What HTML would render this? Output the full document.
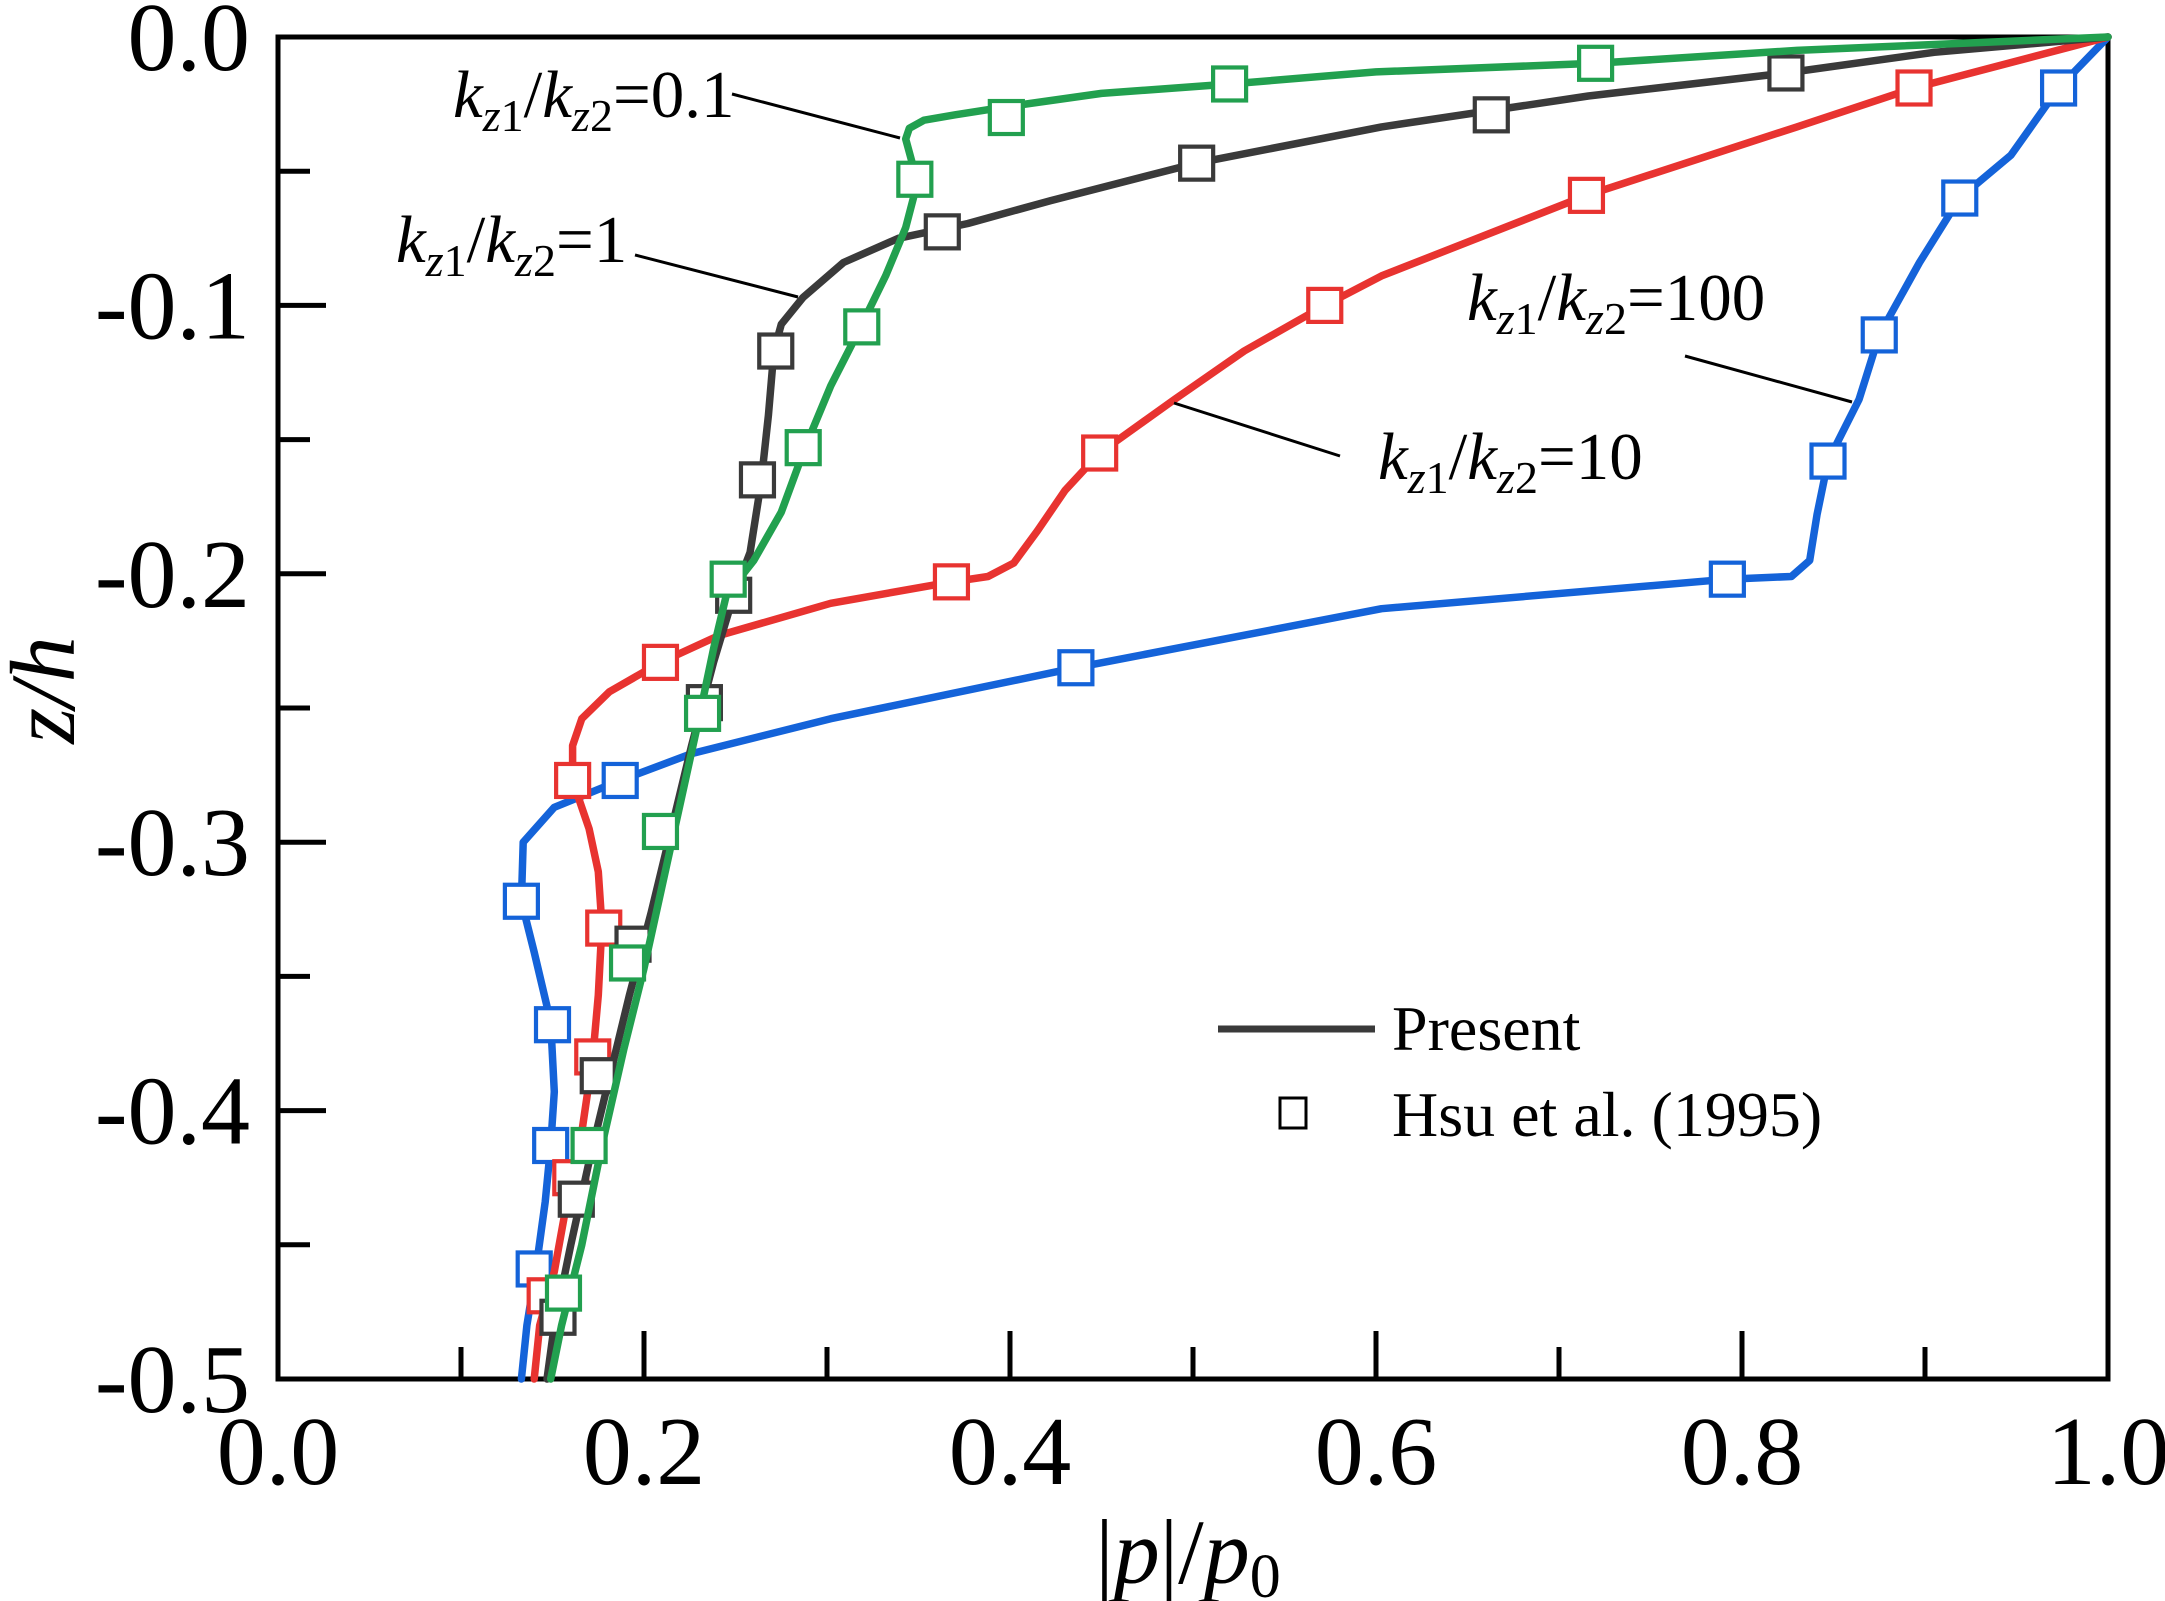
<!DOCTYPE html>
<html><head><meta charset="utf-8"><style>
html,body{margin:0;padding:0;background:#fff;}
svg{display:block;font-family:"Liberation Serif",serif;}
</style></head><body>
<svg id="chart" width="2165" height="1601" viewBox="0 0 2165 1601" xmlns="http://www.w3.org/2000/svg">
<g id="plot"></g>
</svg>
<script>
// ---- data ----
const xTicks = [0, 0.2, 0.4, 0.6, 0.8, 1.0];
const xTickLabels = ["0.0","0.2","0.4","0.6","0.8","1.0"];
const yTicks = [0, -0.1, -0.2, -0.3, -0.4, -0.5];
const yTickLabels = ["0.0","-0.1","-0.2","-0.3","-0.4","-0.5"];

const greenLineX = [1,0.83,0.72,0.6,0.52,0.45,0.398,0.37,0.353,0.345,0.343,0.347,0.348,0.343,0.332,0.317,0.302,0.288,0.275,0.26,0.245,0.238,0.23,0.22,0.21,0.2,0.189,0.177,0.166,0.155,0.149];
const greenLineY = [0,-0.005,-0.0098,-0.013,-0.0175,-0.021,-0.026,-0.029,-0.031,-0.034,-0.038,-0.048,-0.058,-0.071,-0.089,-0.11,-0.13,-0.153,-0.177,-0.195,-0.208,-0.228,-0.254,-0.285,-0.316,-0.347,-0.377,-0.413,-0.45,-0.48,-0.5];
const greenMarkX = [0.72,0.52,0.398,0.348,0.319,0.287,0.246,0.232,0.209,0.191,0.17,0.156];
const greenMarkY = [-0.0098,-0.0175,-0.03,-0.053,-0.108,-0.153,-0.202,-0.252,-0.296,-0.345,-0.413,-0.468];

const blackLineX = [1,0.905,0.824,0.716,0.603,0.502,0.422,0.377,0.339,0.309,0.287,0.275,0.271,0.268,0.264,0.258,0.249,0.238,0.226,0.215,0.204,0.192,0.181,0.17,0.16,0.151,0.147];
const blackLineY = [0,-0.0057,-0.0134,-0.022,-0.0335,-0.047,-0.061,-0.0695,-0.075,-0.084,-0.097,-0.107,-0.117,-0.141,-0.166,-0.192,-0.208,-0.233,-0.264,-0.295,-0.326,-0.357,-0.388,-0.419,-0.45,-0.48,-0.5];
const blackMarkX = [0.824,0.663,0.502,0.363,0.272,0.262,0.249,0.233,0.194,0.175,0.163,0.153];
const blackMarkY = [-0.0134,-0.029,-0.047,-0.0726,-0.117,-0.165,-0.208,-0.248,-0.338,-0.387,-0.433,-0.477];

const redLineX = [1,0.894,0.83,0.715,0.603,0.572,0.528,0.49,0.449,0.43,0.415,0.402,0.388,0.368,0.302,0.241,0.209,0.181,0.166,0.161,0.161,0.17,0.175,0.177,0.175,0.172,0.166,0.16,0.151,0.143,0.14];
const redLineY = [0,-0.019,-0.0335,-0.059,-0.089,-0.1,-0.117,-0.135,-0.155,-0.169,-0.184,-0.196,-0.201,-0.203,-0.211,-0.223,-0.233,-0.244,-0.254,-0.264,-0.277,-0.295,-0.311,-0.331,-0.357,-0.38,-0.408,-0.426,-0.46,-0.48,-0.5];
const redMarkX = [0.894,0.715,0.572,0.449,0.368,0.209,0.161,0.178,0.172,0.16,0.146];
const redMarkY = [-0.019,-0.059,-0.1,-0.155,-0.203,-0.233,-0.277,-0.332,-0.38,-0.425,-0.469];

const blueLineX = [1,0.973,0.947,0.919,0.897,0.875,0.864,0.847,0.841,0.837,0.827,0.792,0.603,0.436,0.302,0.226,0.187,0.151,0.134,0.133,0.14,0.149,0.151,0.149,0.146,0.141,0.136,0.133];
const blueLineY = [0,-0.019,-0.044,-0.06,-0.084,-0.111,-0.135,-0.158,-0.178,-0.195,-0.201,-0.202,-0.213,-0.235,-0.254,-0.267,-0.277,-0.287,-0.3,-0.322,-0.341,-0.367,-0.393,-0.413,-0.434,-0.459,-0.48,-0.5];
const blueMarkX = [0.973,0.919,0.875,0.847,0.792,0.436,0.187,0.133,0.15,0.149,0.14];
const blueMarkY = [-0.019,-0.06,-0.111,-0.158,-0.202,-0.235,-0.277,-0.322,-0.368,-0.413,-0.459];

// ---- axes ----
const X0=278, X1=2108, Y0=37, Y1=1379;
function sx(v){ return X0 + v*(X1-X0); }
function sy(v){ return Y0 + (-v/0.5)*(Y1-Y0); }

const NS="http://www.w3.org/2000/svg";
const g=document.getElementById('plot');
function mk(tag, attrs, parent){ const e=document.createElementNS(NS,tag); for(const k in attrs) e.setAttribute(k,attrs[k]); (parent||g).appendChild(e); return e; }

let frame=mk('rect',{x:X0,y:Y0,width:X1-X0,height:Y1-Y0,fill:'none',stroke:'#000','stroke-width':5});



for(let i=0;i<=10;i++){
  const v=i/10, major=(i%2===0);
  const t=mk('line',{x1:sx(v),x2:sx(v),y1:Y1,y2:Y1-(major?48:32),stroke:'#000','stroke-width':5});
  
  
}
xTicks.forEach((v,i)=>{
  const t=mk('text',{x:sx(v),y:1484,'text-anchor':'middle','font-size':98});
  t.textContent=xTickLabels[i];
  
  
});
for(let i=0;i<=10;i++){
  const v=-i/20, major=(i%2===0);
  const t=mk('line',{x1:X0,x2:X0+(major?48:32),y1:sy(v),y2:sy(v),stroke:'#000','stroke-width':5});
  
  
}
yTicks.forEach((v,i)=>{
  const t=mk('text',{x:250,y:sy(v)+33,'text-anchor':'end','font-size':98});
  t.textContent=yTickLabels[i];
  
  
});

function series(xs,ys,mx,my,color,name){
  let d='';
  xs.forEach((v,i)=>{ d+=(i?'L':'M')+sx(v).toFixed(1)+','+sy(ys[i]).toFixed(1); });
  const p=mk('path',{d:d,fill:'none',stroke:color,'stroke-width':7.5,'stroke-linejoin':'round','stroke-linecap':'round'});
  
  
  mx.forEach((v,i)=>{
    const r=mk('rect',{x:sx(v)-16.5,y:sy(my[i])-16.5,width:33,height:33,fill:'#fff',stroke:color,'stroke-width':4.2});
    
    
  });
}
series(blueLineX,blueLineY,blueMarkX,blueMarkY,'#1463d9','kz-ratio-100');
series(redLineX,redLineY,redMarkX,redMarkY,'#e83330','kz-ratio-10');
series(blackLineX,blackLineY,blackMarkX,blackMarkY,'#3a3a3a','kz-ratio-1');
series(greenLineX,greenLineY,greenMarkX,greenMarkY,'#22a04f','kz-ratio-0-1');
</script>
<svg style="position:absolute;left:0;top:0" width="2165" height="1601" viewBox="0 0 2165 1601" xmlns="http://www.w3.org/2000/svg">
<g font-family="Liberation Serif, serif" fill="#000">
  <line x1="732" y1="94" x2="900" y2="138" stroke="#000" stroke-width="3"/>
  <line x1="635" y1="255" x2="798" y2="297" stroke="#000" stroke-width="3"/>
  <line x1="1174" y1="403" x2="1340" y2="456" stroke="#000" stroke-width="3"/>
  <line x1="1685" y1="356" x2="1852" y2="402" stroke="#000" stroke-width="3"/>
  <text x="453" y="117" font-size="67"><tspan font-style="italic">k</tspan><tspan font-style="italic" font-size="46" dy="14">z</tspan><tspan font-size="46">1</tspan><tspan dy="-14">/</tspan><tspan font-style="italic">k</tspan><tspan font-style="italic" font-size="46" dy="14">z</tspan><tspan font-size="46">2</tspan><tspan dy="-14">=0.1</tspan></text>
  <text x="396" y="262" font-size="67"><tspan font-style="italic">k</tspan><tspan font-style="italic" font-size="46" dy="14">z</tspan><tspan font-size="46">1</tspan><tspan dy="-14">/</tspan><tspan font-style="italic">k</tspan><tspan font-style="italic" font-size="46" dy="14">z</tspan><tspan font-size="46">2</tspan><tspan dy="-14">=1</tspan></text>
  <text x="1467" y="320" font-size="67"><tspan font-style="italic">k</tspan><tspan font-style="italic" font-size="46" dy="14">z</tspan><tspan font-size="46">1</tspan><tspan dy="-14">/</tspan><tspan font-style="italic">k</tspan><tspan font-style="italic" font-size="46" dy="14">z</tspan><tspan font-size="46">2</tspan><tspan dy="-14">=100</tspan></text>
  <text x="1378" y="479" font-size="67"><tspan font-style="italic">k</tspan><tspan font-style="italic" font-size="46" dy="14">z</tspan><tspan font-size="46">1</tspan><tspan dy="-14">/</tspan><tspan font-style="italic">k</tspan><tspan font-style="italic" font-size="46" dy="14">z</tspan><tspan font-size="46">2</tspan><tspan dy="-14">=10</tspan></text>
  <line x1="1218" y1="1029" x2="1375" y2="1029" stroke="#3a3a3a" stroke-width="7"/>
  <text x="1392" y="1050" font-size="64">Present</text>
  <rect x="1280" y="1098" width="26" height="30" fill="#fff" stroke="#000" stroke-width="3"/>
  <text x="1392" y="1136" font-size="64">Hsu et al. (1995)</text>
  <text x="1188" y="1583" text-anchor="middle" font-size="92"><tspan>|</tspan><tspan font-style="italic">p</tspan><tspan>|/</tspan><tspan font-style="italic">p</tspan><tspan font-size="62" dy="14">0</tspan></text>
  <text transform="translate(74,690) rotate(-90)" text-anchor="middle" font-size="92" font-style="italic">z/h</text>
</g>
</svg>
</body></html>
